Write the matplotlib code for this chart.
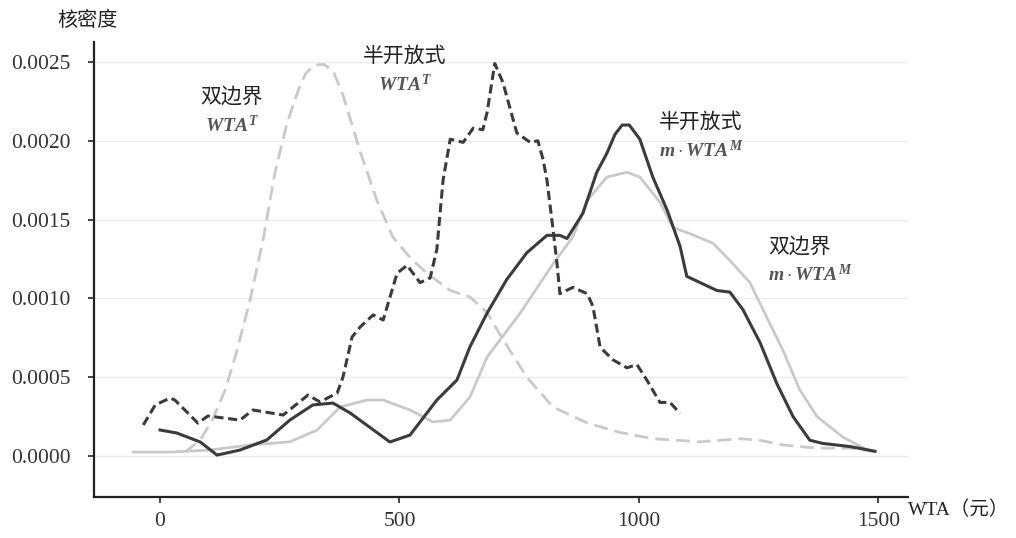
import matplotlib
matplotlib.use("Agg")
import matplotlib.pyplot as plt

# 双边界 WTA^T (light dashed)
bd_wta_x = [52, 84, 109, 136, 161, 188, 215, 240, 265, 292, 305, 322, 342, 362, 382, 418,
            453, 486, 522, 557, 606, 647, 683, 716, 766, 821, 892, 960, 1029, 1128, 1211,
            1253, 1301, 1372, 1441, 1489]
bd_wta_y = [0.000025, 0.000102, 0.000228, 0.000419, 0.000673, 0.00099, 0.00137, 0.00180,
            0.00211, 0.00235, 0.00243, 0.00248, 0.002485, 0.00244, 0.00229, 0.00193,
            0.00162, 0.00139, 0.00126, 0.00116, 0.00105, 0.00101, 0.00091, 0.00074,
            0.00050, 0.00031, 0.00021, 0.00015, 0.00011, 0.00009, 0.00011, 0.00010,
            0.00007, 0.00005, 0.00005, 0.00003]

# 半开放式 WTA^T (dark dashed)
so_wta_x = [-35, -10, 21, 31, 79, 100, 167, 194, 257, 309, 334, 370, 382, 401, 418, 445,
            466, 495, 516, 543, 564, 578, 591, 606, 633, 654, 674, 683, 699, 716, 745, 773,
            789, 800, 808, 821, 829, 835, 862, 892, 904, 919, 946, 975, 996, 1017, 1044,
            1065, 1086]
so_wta_y = [0.000197, 0.000324, 0.000368, 0.000355, 0.000209, 0.000254, 0.000228, 0.000292,
            0.000260, 0.000387, 0.000343, 0.000400, 0.000501, 0.000755, 0.000819, 0.000895,
            0.000863, 0.00116, 0.00121, 0.00110, 0.00113, 0.00131, 0.00175, 0.00201,
            0.00199, 0.00208, 0.00207, 0.00218, 0.00249, 0.00237, 0.00205, 0.00199,
            0.00200, 0.00188, 0.00175, 0.00143, 0.00122, 0.00103, 0.00107, 0.00103,
            0.00095, 0.00069, 0.00061, 0.00056, 0.00058, 0.00048, 0.00034, 0.00034,
            0.00027]

# 半开放式 m·WTA^M (dark solid)
so_m_x = [0, 35, 84, 119, 167, 223, 271, 319, 361, 397, 480, 522, 578, 620, 647, 683, 724,
          766, 808, 835, 850, 883, 912, 933, 950, 965, 980, 1002, 1029, 1059, 1086, 1100,
          1128, 1163, 1190, 1217, 1253, 1288, 1322, 1357, 1384, 1441, 1476, 1493]
so_m_y = [0.000165, 0.000146, 0.000089, 0.000006, 0.000038, 0.000102, 0.000228, 0.000324,
          0.000336, 0.000273, 0.000089, 0.000133, 0.000355, 0.000482, 0.000692, 0.000907,
          0.00112, 0.00129, 0.00140, 0.00140, 0.00138, 0.00154, 0.00180, 0.00192, 0.00204,
          0.00210, 0.00210, 0.00201, 0.00177, 0.00156, 0.00133, 0.00114, 0.00110, 0.00105,
          0.00104, 0.00093, 0.00072, 0.00046, 0.00025, 0.00010, 0.00008, 0.00006, 0.00004,
          0.00003]

# 双边界 m·WTA^M (light solid)
bd_m_x = [-56, 21, 104, 188, 271, 328, 376, 432, 466, 522, 570, 606, 647, 683, 752, 821,
          862, 892, 933, 975, 1002, 1044, 1071, 1107, 1155, 1190, 1232, 1267, 1301, 1336,
          1372, 1426, 1476, 1493]
bd_m_y = [0.000025, 0.000025, 0.000038, 0.00007, 0.00009, 0.000165, 0.000311, 0.000355,
          0.000355, 0.000292, 0.000216, 0.000228, 0.000374, 0.000628, 0.000907, 0.00122,
          0.00139, 0.00162, 0.00177, 0.00180, 0.00177, 0.00161, 0.00145, 0.00141, 0.00135,
          0.00124, 0.00110, 0.00088, 0.00067, 0.00042, 0.00025, 0.00012, 0.00004, 0.00003]

x_ticks = [0, 500, 1000, 1500]
y_ticks = [0.0000, 0.0005, 0.0010, 0.0015, 0.0020, 0.0025]

cjk = ['Noto Sans CJK SC', 'DejaVu Sans']
serif = ['Liberation Serif', 'DejaVu Serif']

plt.rcParams['mathtext.fontset'] = 'custom'
plt.rcParams['mathtext.it'] = 'Liberation Serif:italic:bold'
plt.rcParams['mathtext.rm'] = 'Liberation Serif:bold'

fig = plt.figure(figsize=(10.16, 5.38), dpi=100)
ax = fig.add_axes([0.0925, 0.0762, 0.8012, 0.8458])

dark = '#3b3b3b'
light = '#c9c9c9'
ax.plot(bd_wta_x, bd_wta_y, color=light, lw=2, dashes=(5, 2.5))
ax.plot(bd_m_x, bd_m_y, color=light, lw=2)
ax.plot(so_m_x, so_m_y, color=dark, lw=2.2)
ax.plot(so_wta_x, so_wta_y, color=dark, lw=2.2, dashes=(3, 1.5))

ax.set_xlim(-138, 1562)
ax.set_ylim(-0.00026, 0.002627)
ax.set_xticks(x_ticks)
ax.set_yticks(y_ticks)
ax.set_yticklabels([f'{v:.4f}' for v in y_ticks], fontfamily=serif, fontsize=15.5, color='#333333')
ax.set_xticklabels([str(v) for v in x_ticks], fontfamily=serif, fontsize=15.5, color='#333333')
ax.grid(axis='y', color='#ebebeb', lw=1)
ax.set_axisbelow(True)
ax.tick_params(axis='y', length=4, width=1.2, color='#222222', pad=13)
ax.tick_params(axis='x', length=4, width=1.2, color='#222222', pad=7)
for s in ['top', 'right']:
    ax.spines[s].set_visible(False)
for s in ['left', 'bottom']:
    ax.spines[s].set_linewidth(1.6)
    ax.spines[s].set_color('#222222')

fig.text(0.086, 0.962, '核密度', family=cjk, fontsize=14.5, ha='center', va='center', color='#222222')
fig.text(0.894, 0.052, 'WTA（元）', family=['Liberation Serif', 'Noto Sans CJK SC'],
         fontsize=14, ha='left', va='center', color='#222222')


def label(x, y, top, bottom, dx=0):
    ax.text(x, y, top, family=cjk, fontsize=15, ha='left', va='center', color='#222222')
    ax.text(x + dx, y - 0.00018, bottom, fontsize=14, ha='left', va='center', color='#555555')


label(85, 0.00228, '双边界', r'$WTA^{T}$', dx=8)
label(423, 0.00254, '半开放式', r'$WTA^{T}$', dx=33)
label(1042, 0.00212, '半开放式', r'$m\cdot WTA^{M}$')
label(1270, 0.00133, '双边界', r'$m\cdot WTA^{M}$')

fig.savefig('out.png', dpi=100)
